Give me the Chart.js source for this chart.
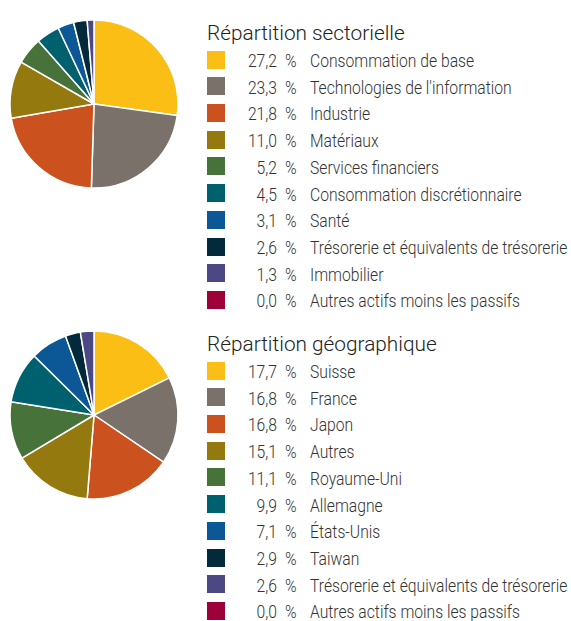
<!DOCTYPE html>
<html lang="fr">
<head>
<meta charset="utf-8">
<script src="https://cdn.jsdelivr.net/npm/chart.js@4.4.1/dist/chart.umd.min.js"></script>
<style>
  body { margin: 0; background: #fff; width: 571px; height: 621px; overflow: hidden; color: #333; }
  .block { position: relative; width: 571px; height: 311px; }
  .pie { position: absolute; left: 0; top: 10px; }
  .title { position: absolute; left: 207px; top: 23px; font: 300 20.8px/20.8px Roboto, "Liberation Sans", sans-serif; color: #222; white-space: nowrap; }
  .row { position: absolute; left: 207px; height: 27px; width: 364px; font: 300 19px/19px Roboto, "Liberation Sans", sans-serif; white-space: nowrap; }
  .row .sq { position: absolute; left: 0; top: 4.5px; width: 18px; height: 18px; }
  .row span { position: absolute; top: 5px; transform: scaleX(0.825); transform-origin: 0 0; }
  .row .num { left: 20px; width: 50px; text-align: right; transform-origin: 100% 0; }
  .row .pct { left: 78px; }
  .row .lbl { left: 103px; }
</style>
</head>
<body>
<div class="block" id="sector"></div>
<div class="block" id="geo"></div>
<script>
// Répartition sectorielle
const sectorLabels = [
  "Consommation de base",
  "Technologies de l'information",
  "Industrie",
  "Matériaux",
  "Services financiers",
  "Consommation discrétionnaire",
  "Santé",
  "Trésorerie et équivalents de trésorerie",
  "Immobilier",
  "Autres actifs moins les passifs"
];
const sectorValues = [27.2, 23.3, 21.8, 11.0, 5.2, 4.5, 3.1, 2.6, 1.3, 0.0];

// Répartition géographique
const geoLabels = [
  "Suisse",
  "France",
  "Japon",
  "Autres",
  "Royaume-Uni",
  "Allemagne",
  "États-Unis",
  "Taiwan",
  "Trésorerie et équivalents de trésorerie",
  "Autres actifs moins les passifs"
];
const geoValues = [17.7, 16.8, 16.8, 15.1, 11.1, 9.9, 7.1, 2.9, 2.6, 0.0];

const palette = ["#fbbe14", "#7b716b", "#cb521e", "#94790f", "#47723a", "#00616e", "#0c5897", "#032a3b", "#4c4883", "#9e0039"];

function buildBlock(id, title, labels, values) {
  const block = document.getElementById(id);

  const canvas = document.createElement("canvas");
  canvas.className = "pie";
  canvas.width = 188;
  canvas.height = 188;
  block.appendChild(canvas);

  new Chart(canvas, {
    type: "pie",
    data: {
      labels: labels,
      datasets: [{
        data: values,
        backgroundColor: palette,
        borderColor: "#ffffff",
        borderWidth: 1.5
      }]
    },
    options: {
      responsive: false,
      animation: false,
      radius: 84,
      layout: { padding: 0 },
      plugins: { legend: { display: false }, tooltip: { enabled: false } }
    }
  });

  const t = document.createElement("div");
  t.className = "title";
  t.textContent = title;
  block.appendChild(t);

  labels.forEach((lab, i) => {
    const row = document.createElement("div");
    row.className = "row";
    row.style.top = (59.5 + 26.72 * i - 13.5) + "px";
    row.innerHTML =
      '<div class="sq" style="background:' + palette[i] + '"></div>' +
      '<span class="num">' + values[i].toFixed(1).replace(".", ",") + '</span>' +
      '<span class="pct">%</span>' +
      '<span class="lbl"></span>';
    row.querySelector(".lbl").textContent = lab;
    block.appendChild(row);
  });
}

buildBlock("sector", "Répartition sectorielle", sectorLabels, sectorValues);
buildBlock("geo", "Répartition géographique", geoLabels, geoValues);
</script>
</body>
</html>
